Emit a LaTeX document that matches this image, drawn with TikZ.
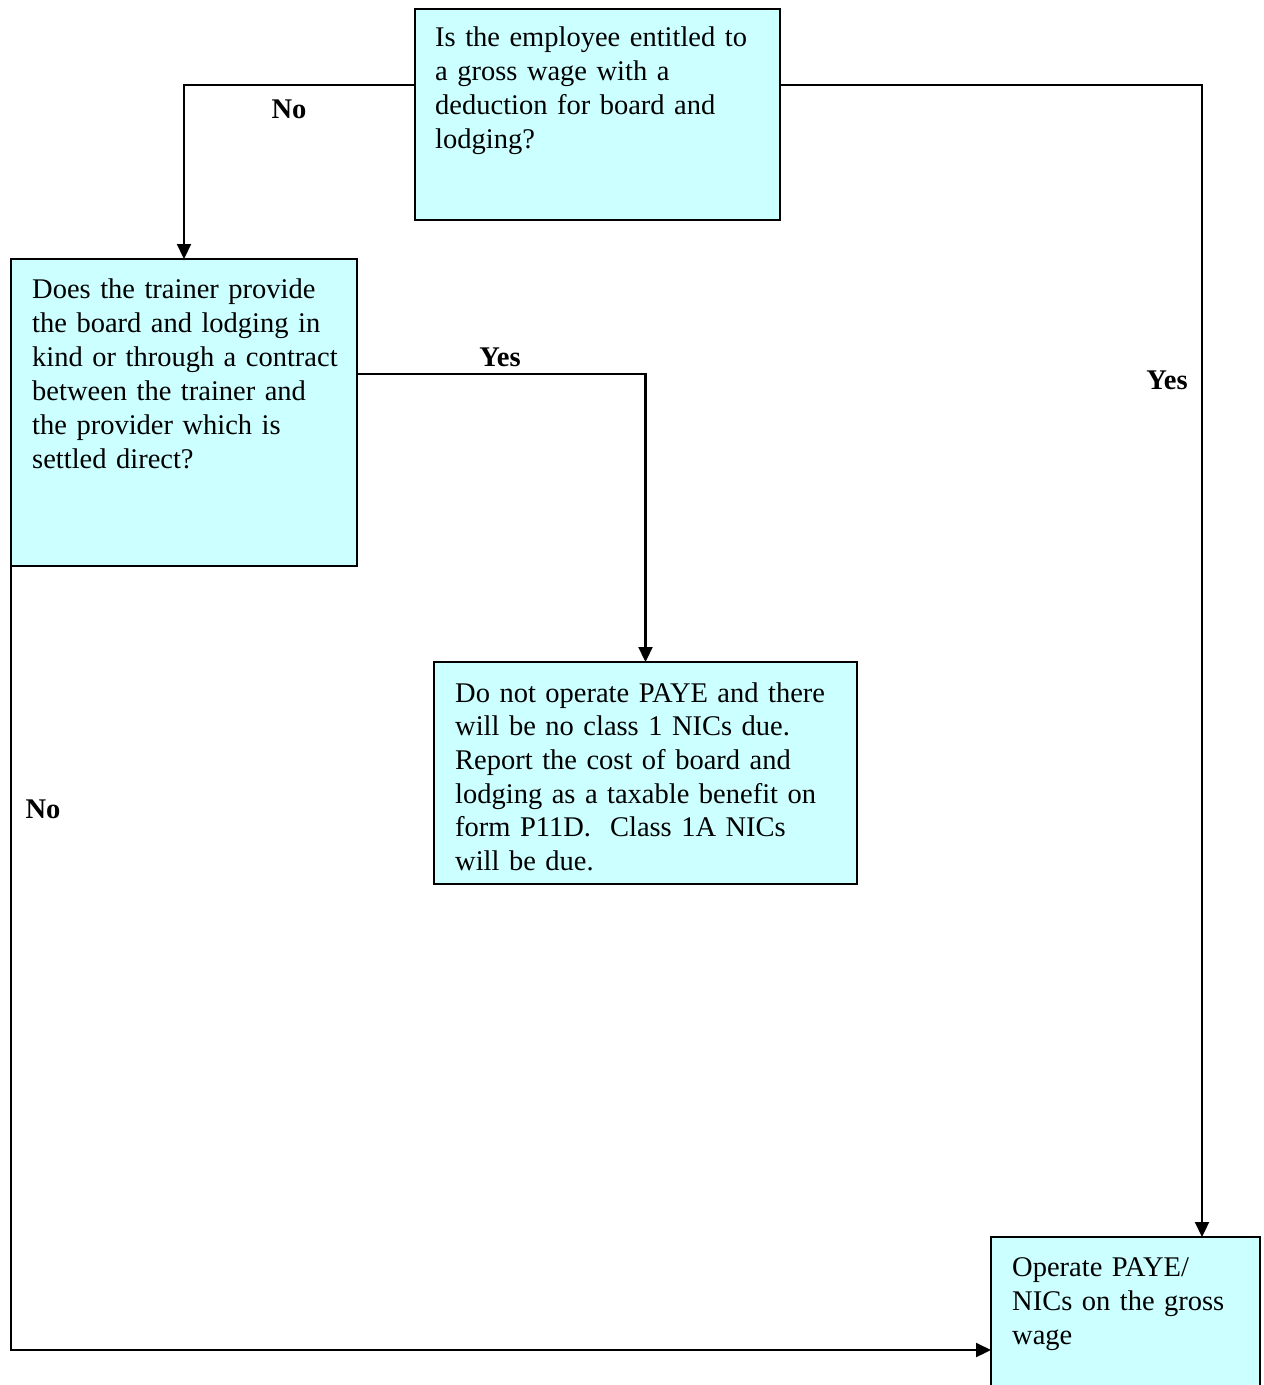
\documentclass[tikz,border=0pt]{standalone}
\usepackage{fontspec}
\setmainfont{Liberation Serif}
\usetikzlibrary{arrows.meta,calc}
\definecolor{boxfill}{HTML}{CCFFFF}
\begin{document}
\begin{tikzpicture}[x=1pt,y=1pt,
  box/.style={draw=black,fill=boxfill,line width=2pt,inner sep=0pt,outer sep=0pt,anchor=north west},
  txt/.style={anchor=base west,inner sep=0pt,text width=420pt,align=left,font=\fontsize{28.5pt}{34pt}\selectfont},
  lbl/.style={inner sep=0pt,font=\fontsize{28.5pt}{34pt}\selectfont\bfseries},
  conn/.style={draw=black,line width=2.2pt},
  arr/.style={conn,-{Triangle[length=15pt,width=14pt]}}]
\useasboundingbox (0,0) rectangle (1264,-1385);
\clip (0,0) rectangle (1264,-1385);
\fill[white] (0,0) rectangle (1264,-1385);
% boxes
\node[box,minimum width=365pt,minimum height=211pt] (b1) at (415,-9) {};
\node[box,minimum width=346pt,minimum height=307pt] (b2) at (11,-259) {};
\node[box,minimum width=423pt,minimum height=222pt] (b3) at (434,-662) {};
\node[box,minimum width=269pt,minimum height=200pt] (b4) at (991,-1237) {};
% texts
\node[txt] (t1) at (435,-46) {Is the employee entitled to\\a gross wage with a\\deduction for board and\\lodging?};
\node[txt] (t2) at (32,-298) {Does the trainer provide\\the board and lodging in\\kind or through a contract\\between the trainer and\\the provider which is\\settled direct?};
\node[txt,font=\fontsize{28.5pt}{33.7pt}\selectfont] (t3) at (455,-702) {Do not operate PAYE and there\\will be no class 1 NICs due.\\Report the cost of board and\\lodging as a taxable benefit on\\form P11D.\ \ Class 1A NICs\\will be due.};
\node[txt] (t4) at (1012,-1276) {Operate PAYE/\\NICs on the gross\\wage};
% connector coordinates
\coordinate (p1l) at ($(b1.north west)+(0,-76)$);
\coordinate (p1r) at ($(b1.north east)+(0,-76)$);
\coordinate (p4t) at ($(b4.north west)+(211,0)$);
\coordinate (p2r) at ($(b2.north east)+(0,-115)$);
\coordinate (p4l) at ($(b4.north west)+(0,-113)$);
% connectors
\draw[arr] (p1l) -| (b2.north);
\draw[arr] (p1r) -| (p4t);
\draw[arr] (p2r) -| (b3.north);
\draw[arr] (b2.south west) |- (p4l);
% labels
\node[lbl] (l1) at (289,-109) {No};
\node[lbl] (l2) at (500,-357) {Yes};
\node[lbl] (l3) at (1167,-380) {Yes};
\node[lbl] (l4) at (43,-809) {No};
\end{tikzpicture}
\end{document}
